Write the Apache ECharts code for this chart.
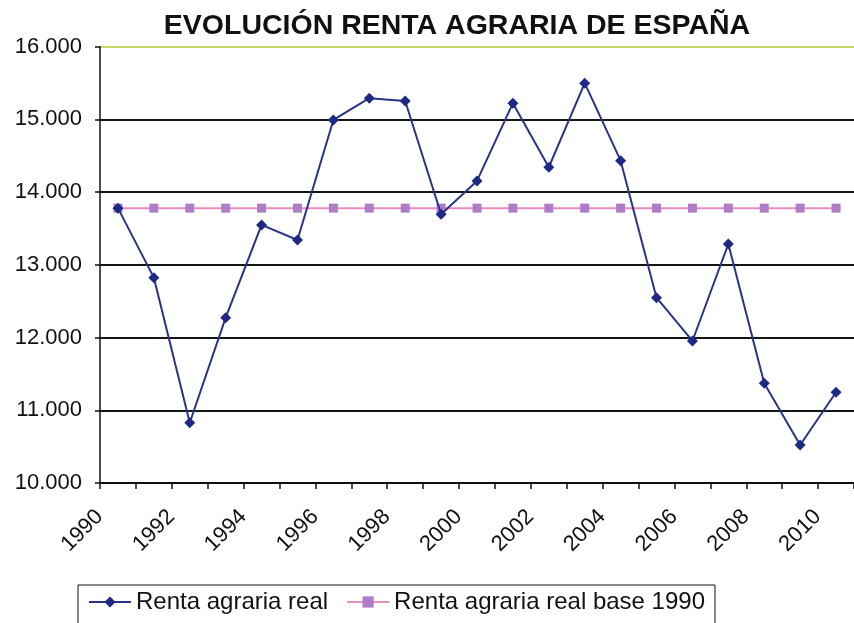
<!DOCTYPE html>
<html>
<head>
<meta charset="utf-8">
<script src="https://cdn.jsdelivr.net/npm/echarts@6/dist/echarts.min.js"></script>
<style>
html,body{margin:0;padding:0;background:#fff;}
#chart{width:854px;height:623px;}
</style>
</head>
<body>
<div id="chart"></div>
<script>
var years = ['1990','1991','1992','1993','1994','1995','1996','1997','1998','1999','2000','2001','2002','2003','2004','2005','2006','2007','2008','2009','2010'];
var rentaReal = [13780, 12824, 10829, 12274, 13549, 13342, 14993, 15292, 15254, 13695, 14154, 15223, 14342, 15498, 14433, 12549, 11953, 13287, 11371, 10523, 11248];
var rentaBase = [13780, 13780, 13780, 13780, 13780, 13780, 13780, 13780, 13780, 13780, 13780, 13780, 13780, 13780, 13780, 13780, 13780, 13780, 13780, 13780, 13780];
var seriesNames = ['Renta agraria real', 'Renta agraria real base 1990'];
var titleText = 'EVOLUCIÓN RENTA AGRARIA DE ESPAÑA';

var chart = echarts.init(document.getElementById('chart'));
var font = '"Liberation Sans", Arial, sans-serif';
chart.setOption({
  backgroundColor: '#ffffff',
  animation: false,
  title: {
    text: titleText,
    left: 457,
    top: 12,
    padding: 0,
    textAlign: 'center',
    textStyle: { fontFamily: font, fontSize: 28.5, fontWeight: 'bold', color: '#111' }
  },
  legend: {
    left: 78,
    top: 585,
    padding: [5, 10, 20, 10],
    itemWidth: 42,
    itemHeight: 14,
    itemGap: 18,
    borderColor: '#111',
    borderWidth: 1,
    backgroundColor: '#fff',
    textStyle: { fontFamily: font, fontSize: 24, color: '#111' },
    data: seriesNames
  },
  grid: { left: 100, top: 46.7, width: 755, height: 436.3, containLabel: false },
  xAxis: {
    type: 'category',
    data: years,
    boundaryGap: true,
    axisLine: { show: true, lineStyle: { color: '#111', width: 1.5 } },
    axisTick: { show: true, interval: 0, length: 6, alignWithLabel: false, lineStyle: { color: '#111', width: 1.5 } },
    axisLabel: {
      interval: 1,
      rotate: 45,
      margin: 12,
      padding: [0, 26, 0, 0],
      fontFamily: font,
      fontSize: 22,
      color: '#111'
    },
    splitLine: { show: false }
  },
  yAxis: {
    type: 'value',
    min: 10000,
    max: 16000,
    interval: 1000,
    axisLine: { show: true, lineStyle: { color: '#111', width: 1.5 } },
    axisTick: { show: true, length: 5, lineStyle: { color: '#111', width: 1.5 } },
    axisLabel: {
      margin: 18,
      fontFamily: font,
      fontSize: 22,
      color: '#111',
      formatter: function (v) { return echarts.format.addCommas(v).replace(',', '.'); }
    },
    splitLine: {
      show: true,
      showMinLine: true,
      showMaxLine: true,
      lineStyle: { color: ['#111', '#151515', '#151515', '#151515', '#151515', '#151515', '#c5d96a'], width: 2 }
    }
  },
  series: [
    {
      name: seriesNames[1],
      type: 'line',
      data: rentaBase,
      symbol: 'rect',
      symbolSize: 9,
      lineStyle: { color: '#e88cc4', width: 2 },
      itemStyle: { color: '#b07cc8' },
      z: 2
    },
    {
      name: seriesNames[0],
      type: 'line',
      data: rentaReal,
      symbol: 'diamond',
      symbolSize: 11,
      lineStyle: { color: '#28338a', width: 2 },
      itemStyle: { color: '#1c2a86' },
      z: 3
    }
  ]
});
</script>
</body>
</html>
